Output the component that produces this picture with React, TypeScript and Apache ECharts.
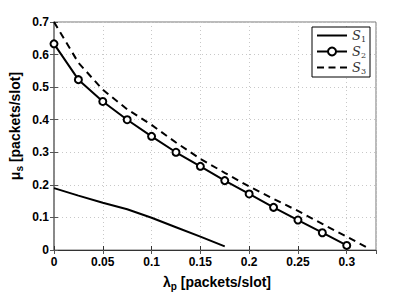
import React, { useEffect, useRef } from "react";
import * as echarts from "echarts";

const xS2 = [0, 0.025, 0.05, 0.075, 0.1, 0.125, 0.15, 0.175, 0.2, 0.225, 0.25, 0.275, 0.3];
const yS2 = [0.633, 0.523, 0.456, 0.4, 0.349, 0.3, 0.257, 0.213, 0.172, 0.131, 0.092, 0.053, 0.014];
const xS1 = [0, 0.025, 0.05, 0.075, 0.1, 0.125, 0.15, 0.175];
const yS1 = [0.19, 0.167, 0.145, 0.125, 0.099, 0.07, 0.041, 0.011];
const xS3 = [0, 0.025, 0.05, 0.075, 0.1, 0.125, 0.15, 0.175, 0.2, 0.225, 0.25, 0.275, 0.3, 0.322];
const yS3 = [0.7, 0.575, 0.492, 0.432, 0.384, 0.33, 0.28, 0.237, 0.195, 0.157, 0.12, 0.08, 0.041, 0.006];
const seriesNames = ["S1", "S2", "S3"];

const pairs = (xs: number[], ys: number[]) => xs.map((x, i) => [x, ys[i]]);

export default function App() {
  const ref = useRef<HTMLDivElement>(null);
  useEffect(() => {
    const chart = echarts.init(ref.current!, null, { renderer: "svg" });
    const font = "Liberation Sans";
    const gridColor = "#c8c8c8";
    const titleRich = {
      l: { fontFamily: font, fontWeight: "bold", fontSize: 14, fill: "#000", color: "#000" },
      sub: { fontFamily: font, fontWeight: "bold", fontSize: 10, fill: "#000", color: "#000", padding: [9, 0, 0, 0] },
    };
    chart.setOption({
      animation: false,
      backgroundColor: "#fff",
      grid: { left: 54, right: 39, top: 22, bottom: 43, show: true, borderColor: "#777", borderWidth: 1 },
      legend: {
        right: 45,
        top: 27,
        orient: "vertical",
        itemWidth: 30,
        itemHeight: 10,
        itemGap: 2,
        padding: [2, 4, 2, 4],
        borderColor: "#000",
        borderWidth: 1,
        backgroundColor: "#fff",
        borderRadius: 0,
        data: [
          { name: seriesNames[0], icon: "path://M0,4h30v2h-30z", itemStyle: { color: "#000" } },
          { name: seriesNames[1] },
          { name: seriesNames[2], icon: "path://M0,4h7v2h-7zM11.5,4h7v2h-7zM23,4h7v2h-7z", itemStyle: { color: "#000" } },
        ],
        formatter: (n: string) => `{s|S}{sub|${n.slice(1)}}`,
        textStyle: {
          rich: {
            s: { fontFamily: "DejaVu Serif", fontStyle: "italic", fontSize: 13, color: "#333" },
            sub: { fontFamily: "DejaVu Serif", fontSize: 8, color: "#333", padding: [7, 0, 0, 0] },
          },
        },
      },
      graphic: [
        {
          type: "text",
          x: 217,
          y: 282,
          style: {
            text: "{l|λ}{sub|p}{l| [packets/slot]}",
            align: "center",
            verticalAlign: "middle",
            rich: titleRich,
          },
        },
        {
          type: "text",
          x: 15,
          y: 126,
          rotation: Math.PI / 2,
          style: {
            text: "{l|μ}{sub|s}{l| [packets/slot]}",
            align: "center",
            verticalAlign: "middle",
            rich: titleRich,
          },
        },
      ],
      xAxis: [
        {
          type: "value",
          min: 0,
          max: 0.33,
          interval: 0.05,
          axisLine: { show: true, lineStyle: { color: "#333", width: 1 } },
          axisTick: { show: true, inside: true, length: 4, lineStyle: { color: "#333" } },
          axisLabel: { fontFamily: font, fontWeight: "bold", fontSize: 12, color: "#000", margin: 6, showMaxLabel: false },
          splitLine: { show: true, lineStyle: { color: gridColor, type: [1, 3] } },
        },
        {
          type: "value",
          position: "top",
          min: 0,
          max: 0.33,
          interval: 0.05,
          axisLine: { show: false },
          axisTick: { show: true, inside: true, length: 4, lineStyle: { color: "#555" } },
          axisLabel: { show: false },
          splitLine: { show: false },
        },
      ],
      yAxis: [
        {
          type: "value",
          min: 0,
          max: 0.7,
          interval: 0.1,
          axisLine: { show: true, lineStyle: { color: "#777", width: 1.5 } },
          axisTick: { show: true, inside: true, length: 4, lineStyle: { color: "#555" } },
          axisLabel: { fontFamily: font, fontWeight: "bold", fontSize: 12, color: "#000", margin: 5 },
          splitLine: { show: true, lineStyle: { color: gridColor, type: [1, 3] } },
        },
        {
          type: "value",
          position: "right",
          min: 0,
          max: 0.7,
          interval: 0.1,
          axisLine: { show: false },
          axisTick: { show: true, inside: true, length: 4, lineStyle: { color: "#555" } },
          axisLabel: { show: false },
          splitLine: { show: false },
        },
      ],
      series: [
        {
          name: "S1",
          type: "line",
          data: pairs(xS1, yS1),
          symbol: "none",
          lineStyle: { color: "#000", width: 2 },
          itemStyle: { color: "#000" },
        },
        {
          name: "S2",
          type: "line",
          data: pairs(xS2, yS2),
          symbol: "circle",
          symbolSize: 7,
          lineStyle: { color: "#000", width: 2 },
          itemStyle: { color: "#fff", borderColor: "#000", borderWidth: 2 },
        },
        {
          name: "S3",
          type: "line",
          data: pairs(xS3, yS3),
          symbol: "none",
          lineStyle: { color: "#000", width: 2, type: [7, 5] },
          itemStyle: { color: "#000" },
        },
      ],
    });
    return () => chart.dispose();
  }, []);
  return <div ref={ref} style={{ width: 415, height: 293, position: "absolute", left: 0, top: 0 }} />;
}
